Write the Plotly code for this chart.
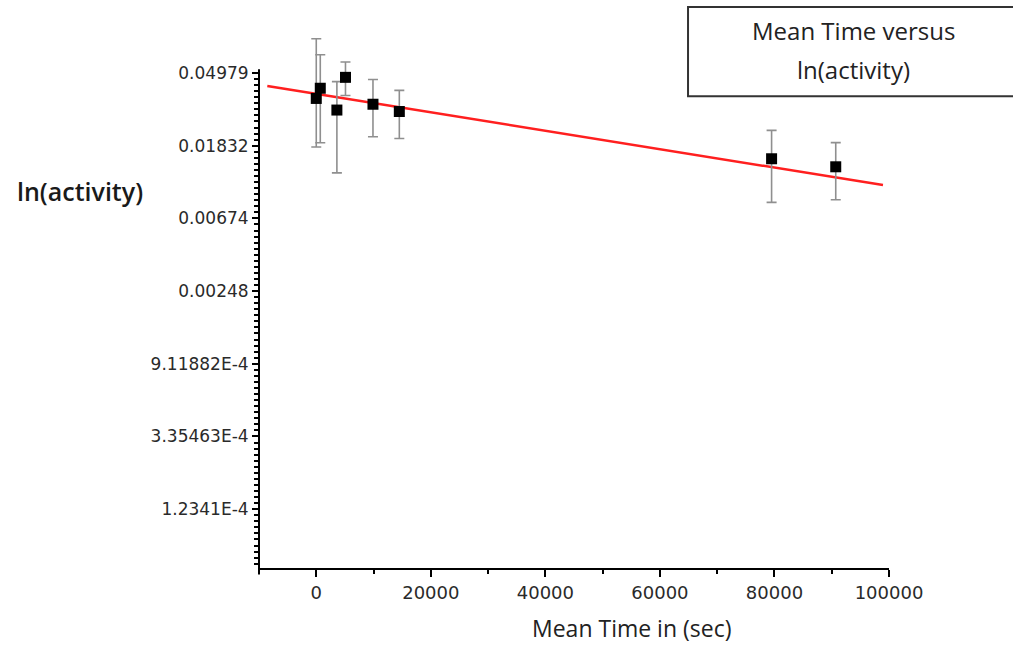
import numpy as np
import plotly.graph_objects as go

# Measured activity vs mean time, with asymmetric uncertainties
mean_time = [0, 700, 3600, 5100, 9900, 14500, 79500, 90700]
activity = [0.03508, 0.04036, 0.02990, 0.04689, 0.03239, 0.02930, 0.01530, 0.01370]
err_plus = [0.0446, 0.0236, 0.0143, 0.0110, 0.0131, 0.0099, 0.0073, 0.0054]
err_minus = [0.0171, 0.0213, 0.0173, 0.0104, 0.0117, 0.0091, 0.0069, 0.0050]

# Exponential fit end points (straight on the ln scale)
fit_time = [-8550, 98950]
fit_activity = [0.04162, 0.01066]

# Y ticks at integer powers of e
y_tick_exponents = [-3, -4, -5, -6, -7, -8, -9]
y_tick_text = ["0.04979", "0.01832", "0.00674", "0.00248",
               "9.11882E-4", "3.35463E-4", "1.2341E-4"]
x_tick_vals = [0, 20000, 40000, 60000, 80000, 100000]
x_tick_text = ["0", "20000", "40000", "60000", "80000", "100000"]

LN_MIN, LN_MAX = -9.809, -2.45
LN_AXIS_TOP = -2.95
LN10 = np.log(10)

y_tick_font = dict(family="DejaVu Sans", size=17, color="#2a2a2a")
x_tick_font = dict(family="DejaVu Sans", size=18, color="#2a2a2a")

fig = go.Figure()

fig.add_trace(go.Scatter(
    x=fit_time, y=fit_activity, mode="lines",
    line=dict(color="#ff1f1f", width=2.5),
    hoverinfo="skip", showlegend=False,
))

fig.add_trace(go.Scatter(
    x=mean_time, y=activity, mode="markers",
    marker=dict(symbol="square", size=11, color="black"),
    error_y=dict(type="data", symmetric=False, array=err_plus,
                 arrayminus=err_minus, color="#8f8f8f",
                 thickness=1.6, width=5),
    cliponaxis=False, showlegend=False,
))

minor_y = np.exp(np.arange(-9.75, LN_AXIS_TOP + 0.01, 1 / 12))

fig.update_xaxes(
    range=[-10000, 100000],
    tickvals=x_tick_vals, ticktext=x_tick_text,
    ticks="outside", ticklen=7, tickwidth=2, tickcolor="black",
    minor=dict(dtick=10000, tick0=0, ticks="outside", ticklen=4,
               tickwidth=1.5, tickcolor="black"),
    showline=True, linecolor="black", linewidth=2,
    showgrid=False, zeroline=False, tickfont=x_tick_font,
)

fig.update_yaxes(
    type="log",
    range=[LN_MIN / LN10, LN_MAX / LN10],
    tickvals=[np.exp(e) for e in y_tick_exponents], ticktext=y_tick_text,
    ticks="outside", ticklen=6, tickwidth=1.5, tickcolor="black",
    minor=dict(tickmode="array", tickvals=list(minor_y), ticks="outside",
               ticklen=4, tickwidth=1.5, tickcolor="black"),
    showline=False, showgrid=False, zeroline=False, tickfont=y_tick_font,
)

axis_top = (LN_AXIS_TOP - LN_MIN) / (LN_MAX - LN_MIN)

shapes = [
    # left axis line, stopping just above the top major tick
    dict(type="line", xref="paper", yref="paper", x0=0, x1=0,
         y0=-0.012, y1=axis_top, line=dict(color="black", width=2)),
    # legend frame
    dict(type="rect", xref="paper", yref="paper", x0=0.681, x1=1.25,
         y0=0.882, y1=1.0486, line=dict(color="#333333", width=2),
         fillcolor="rgba(0,0,0,0)"),
]

legend_font = dict(family="Open Sans", size=24, color="#222222")

annotations = [
    dict(text="Mean Time versus", xref="paper", yref="paper", x=0.943,
         y=1.0056, xanchor="center", yanchor="middle", showarrow=False,
         font=legend_font),
    dict(text="ln(activity)", xref="paper", yref="paper", x=0.943,
         y=0.931, xanchor="center", yanchor="middle", showarrow=False,
         font=legend_font),
    dict(text="ln(activity)", xref="paper", yref="paper", x=-0.387,
         y=0.705, xanchor="left", yanchor="middle", showarrow=False,
         font=dict(family="Open Sans", size=25, color="#1a1a1a",
                   weight=600)),
    dict(text="Mean Time in (sec)", xref="paper", yref="paper", x=0.592,
         y=-0.112, xanchor="center", yanchor="middle", showarrow=False,
         font=dict(family="Open Sans", size=23, color="#222222")),
]

fig.update_layout(
    width=1013, height=646,
    margin=dict(l=259, r=124, t=33, b=78),
    paper_bgcolor="white", plot_bgcolor="white",
    shapes=shapes, annotations=annotations,
    showlegend=False,
)

fig.write_html("out.html")
